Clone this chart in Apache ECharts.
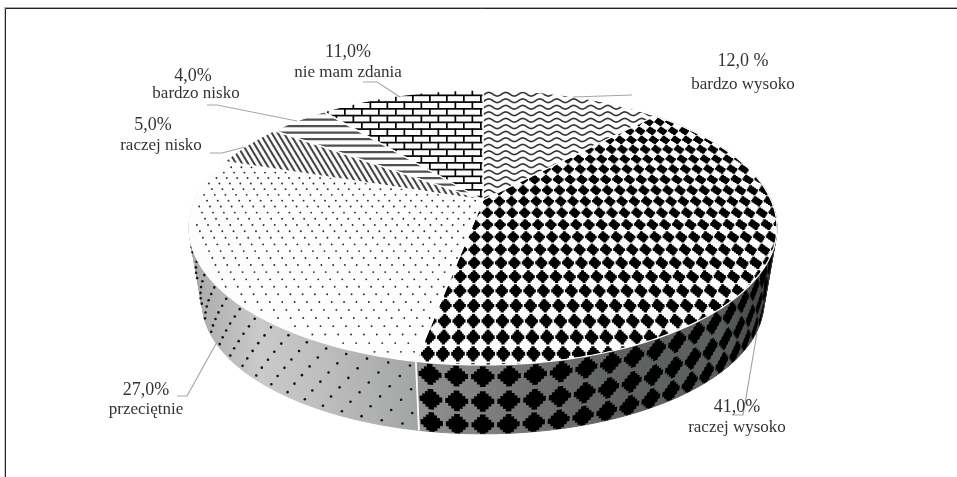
<!DOCTYPE html>
<html><head><meta charset="utf-8">
<style>html,body{margin:0;padding:0;background:#fff}#c{width:957px;height:477px}</style>
<script src="https://cdn.jsdelivr.net/npm/echarts@6/dist/echarts.min.js"></script>
</head><body><div id="c"></div>
<script>
// ---- data ----
const categories = ['bardzo wysoko','raczej wysoko','przeciętnie','raczej nisko','bardzo nisko','nie mam zdania'];
const values = [12,41,27,5,4,11];
const valueLabels = ['12,0 %','41,0%','27,0%','5,0%','4,0%','11,0%'];

// ---- layout (not data) ----
const labelPos = [[743,61,743,85],[737,407,737,428],[146,390,146,410],[153,125,161,146],[193,76,196,94],[348,52,348,73]];
const leaders = [
  [[632,95],[573,97]],
  [[757,333],[743,415],[732,415]],
  [[177,396],[187,396],[217,342]],
  [[210,153],[222,153],[245,147]],
  [[207,105],[217,105],[297,121]],
  [[363,82],[377,82],[400,97]]
];
const G = {cx:483, cy:200, A:288, B:132, k:0.2, ex:483, ey:228, s:0.955, by:303};
const rad = d => d*Math.PI/180;
function plane(x,y){ const w=1-G.k*y; return [G.cx+G.A*x/w, G.cy+G.B*y/w]; }
function topPt(deg){ return plane(Math.sin(rad(deg)), -Math.cos(rad(deg))); }
function rimPt(deg,h){
  const t=topPt(deg);
  const b=[G.ex+G.s*(t[0]-G.ex), G.by+G.s*(t[1]-G.ey)];
  return [t[0]+(b[0]-t[0])*h, t[1]+(b[1]-t[1])*h];
}
function tile(w,h,draw){
  const c=document.createElement('canvas');c.width=w;c.height=h;
  const g=c.getContext('2d');
  g.fillStyle='#fdfdfd';g.fillRect(0,0,w,h);
  draw(g,w,h);
  return {image:c,repeat:'repeat',scaleX:0.5,scaleY:0.5};
}
const patterns = [
  tile(34,13,(g,w,h)=>{ // waves
    g.strokeStyle='#333';g.lineWidth=3.2;
    [-h,0,h].forEach(o=>{g.beginPath();
      for(let x=-2;x<=w+2;x++){const y=h/2+o+3.6*Math.sin(2*Math.PI*x/w);x===-2?g.moveTo(x,y):g.lineTo(x,y);}
      g.stroke();});
  }),
  '#fdfdfd',
  '#fdfdfd',
  tile(12,20,(g,w,h)=>{ // diagonal
    g.strokeStyle='#444';g.lineWidth=4;
    for(let i=-3;i<=2;i++){g.beginPath();g.moveTo(i*w,-1*h);g.lineTo(i*w+3*w,2*h);g.stroke();}
  }),
  tile(4,13,(g,w,h)=>{g.fillStyle='#505050';g.fillRect(0,3,w,4.5);}), // stripes
  tile(34,27,(g,w,h)=>{ // bricks
    g.fillStyle='#000';
    g.fillRect(0,0,w,3.4);g.fillRect(0,13.5,w,3.4);
    g.fillRect(8,0,3.4,13.5);g.fillRect(25,13.5,3.4,13.5);
  })
];
const sideFills = {
  1:[[416,'#929292'],[520,'#757575'],[620,'#606262'],[720,'#5a5e5e'],[778,'#3a3a3a']],
  2:[[189,'#a8a8a8'],[260,'#cacaca'],[330,'#bcbcbc'],[420,'#a2a4a4']]
};
function globalGradient(stops){
  const x0=stops[0][0], x1=stops[stops.length-1][0];
  return {type:'linear',global:true,x:x0,y:0,x2:x1,y2:0,
    colorStops:stops.map(s=>({offset:(s[0]-x0)/(x1-x0),color:s[1]}))};
}
let acc=0;
const ranges = values.map(v=>{const a=acc*3.6;acc+=v;return [a,acc*3.6];});
const clamp=(v,a,b)=>Math.max(a,Math.min(b,v));
const stepAt=(th,base,m)=>base/(m+(1-m)*Math.abs(Math.cos(rad(th))));
const stepShape=[[0,-1],[.25,-1],[.25,-.75],[.5,-.75],[.5,-.5],[.75,-.5],[.75,-.25],[1,-.25],
            [1,.25],[.75,.25],[.75,.5],[.5,.5],[.5,.75],[.25,.75],[.25,1],[-.25,1],
            [-.25,.75],[-.5,.75],[-.5,.5],[-.75,.5],[-.75,.25],[-1,.25],[-1,-.25],
            [-.75,-.25],[-.75,-.5],[-.5,-.5],[-.5,-.75],[-.25,-.75],[-.25,-1]];
function diamond(th,hc,a0,a1,dth,dh){
  return stepShape.map(p=>rimPt(clamp(th+p[0]*dth,a0,a1),clamp(hc+p[1]*dh,0,1)));
}
// clip a polygon to a convex polygon (Sutherland-Hodgman)
function clipConvex(poly,conv){
  let area=0;
  conv.forEach((p,i)=>{const q=conv[(i+1)%conv.length];area+=p[0]*q[1]-q[0]*p[1];});
  const sgn=area>0?1:-1;
  let out=poly;
  for(let i=0;i<conv.length&&out.length;i++){
    const a=conv[i],b=conv[(i+1)%conv.length];
    const side=p=>sgn*((b[0]-a[0])*(p[1]-a[1])-(b[1]-a[1])*(p[0]-a[0]));
    const inp=out;out=[];
    for(let j=0;j<inp.length;j++){
      const p=inp[j],q=inp[(j+1)%inp.length],sp=side(p),sq=side(q);
      if(sp>=0) out.push(p);
      if((sp>=0)!==(sq>=0)){const t=sp/(sp-sq);out.push([p[0]+(q[0]-p[0])*t,p[1]+(q[1]-p[1])*t]);}
    }
  }
  return out;
}
function renderSide(params,api){
  const i=api.value(0), r=ranges[i];
  if(!sideFills[i]) return {type:'group',children:[]};
  const grad=globalGradient(sideFills[i]);
  const ch=[];
  for(let d=r[0];d<r[1];d+=1.5){
    const e=Math.min(d+1.5,r[1]);
    ch.push({type:'polygon',shape:{points:[rimPt(d,0),rimPt(e,0),rimPt(e,1),rimPt(d,1)]},
      style:{fill:grad,stroke:grad,lineWidth:1}});
  }
  if(i===1){
    const rowsH=[.17,.53,.87];
    for(let th=192.85;th>r[0]+30;){
      const s=stepAt(th,4.25,0.62);
      rowsH.forEach(h=>ch.push({type:'polygon',shape:{points:diamond(th,h,r[0],r[1]-.2,s*0.44,.15)},style:{fill:'#000'}}));
      th-=s;
    }
  } else {
    for(let row=0;row<6;row++){
      const h=.07+row*.172;
      for(let th=r[0]+1+(row%2?1.8:0);th<258;){
        const p=rimPt(th,h);
        ch.push({type:'circle',shape:{cx:p[0],cy:p[1],r:1.3},style:{fill:'#111'}});
        th+=stepAt(th,3.6,0.36);
      }
    }
  }
  const a=rimPt(r[i===1?1:0],0), b=rimPt(r[i===1?1:0],1);
  ch.push({type:'polyline',shape:{points:[a,b]},style:{fill:null,stroke:'#fff',lineWidth:1.6}});
  return {type:'group',children:ch};
}
function renderTop(params,api){
  const i=api.value(0), r=ranges[i], pts=[[G.cx,G.cy]];
  for(let d=r[0];d<r[1];d+=1) pts.push(topPt(d));
  pts.push(topPt(r[1]));
  const ch=[{type:'polygon',shape:{points:pts},style:{fill:patterns[i]}}];
  if(i===1){
    const dx=.0425,dy=.085,x0=.2696,y0=.2648;
    for(let a=-30;a<=30;a++)for(let b=-16;b<=12;b++){
      const x=x0+a*dx,y=y0+b*dy;
      if(x*x+y*y>1.2) continue;
      const poly=stepShape.map(p=>plane(x+p[0]*dx*.45,y+p[1]*dy*.45));
      const c=clipConvex(poly,pts);
      if(c.length>2) ch.push({type:'polygon',shape:{points:c},style:{fill:'#000'}});
    }
  } else if(i===2){
    const dx=.0372,dy=.0443;
    for(let b=-24;b<=24;b++)for(let a=-30;a<=4;a++){
      const x=a*dx+(b%2?dx/2:0)+.01,y=b*dy+.005;
      const rr=Math.hypot(x,y); if(rr>.985) continue;
      let deg=Math.atan2(x,-y)*180/Math.PI; if(deg<0)deg+=360;
      if(deg<r[0]+.8||deg>r[1]-.5) continue;
      const p=plane(x,y);
      ch.push({type:'circle',shape:{cx:p[0],cy:p[1],r:.95},style:{fill:'#2a2a2a'}});
    }
  }
  ch.push({type:'polygon',shape:{points:pts},style:{fill:null,stroke:'#fff',lineWidth:1.2,lineJoin:'round'}});
  return {type:'group',children:ch};
}
function renderLabel(params,api){
  const i=api.value(0), p=labelPos[i];
  return {type:'group',children:[
    {type:'polyline',shape:{points:leaders[i]},style:{fill:null,stroke:'#a6a6a6',lineWidth:1.2}},
    {type:'text',style:{text:valueLabels[i],x:p[0],y:p[1],align:'center',verticalAlign:'middle',font:'18px "Liberation Serif"',fill:'#333'}},
    {type:'text',style:{text:categories[i],x:p[2],y:p[3],align:'center',verticalAlign:'middle',font:'17px "Liberation Serif"',fill:'#333'}}
  ]};
}
const rows = values.map((v,i)=>[i,v]);
const chart=echarts.init(document.getElementById('c'),null,{renderer:'canvas'});
chart.setOption({
  animation:false,
  backgroundColor:'#fff',
  graphic:[
    {type:'polyline',silent:true,shape:{points:[[4.5,477],[4.5,7]]},style:{stroke:'#ccc',lineWidth:1,fill:null}},
    {type:'polyline',silent:true,shape:{points:[[957,7.5],[5,7.5]]},style:{stroke:'#aaa',lineWidth:1,fill:null}},
    {type:'polyline',silent:true,shape:{points:[[5.5,477],[5.5,8.5],[957,8.5]]},style:{stroke:'#222',lineWidth:1,fill:null}}
  ],
  series:[
    {type:'custom',name:'side',coordinateSystem:'none',silent:true,renderItem:renderSide,data:rows,z:1},
    {type:'custom',name:'top',coordinateSystem:'none',silent:true,renderItem:renderTop,data:rows,z:2},
    {type:'custom',name:'labels',coordinateSystem:'none',silent:true,renderItem:renderLabel,data:rows,z:3}
  ]
});
</script></body></html>
